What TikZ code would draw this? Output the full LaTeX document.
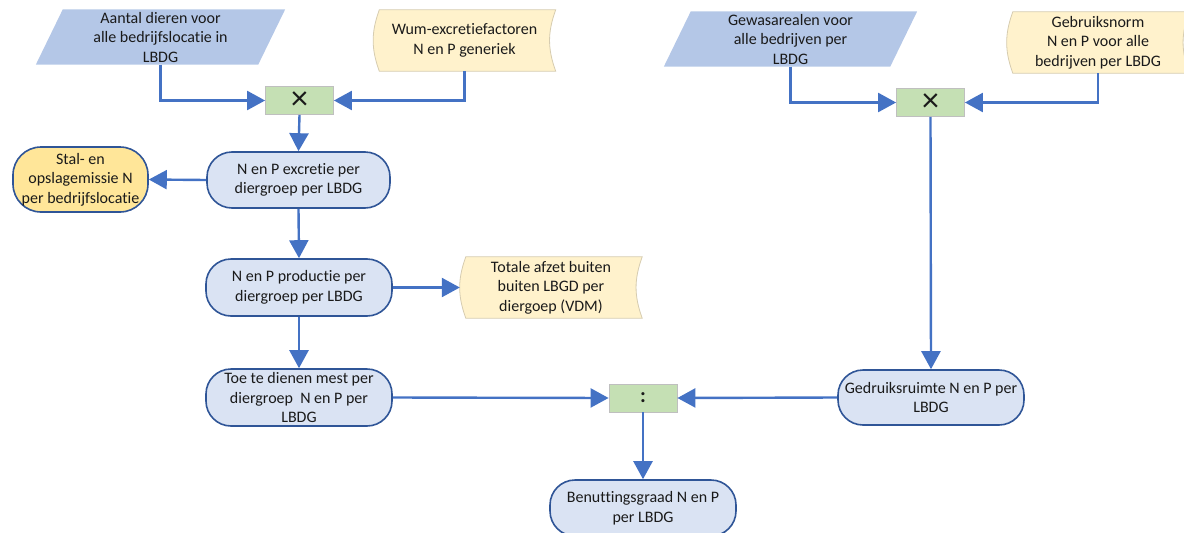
\documentclass[tikz,border=0pt]{standalone}
\usepackage{fontspec}
\setmainfont{Carlito}[Ligatures=NoCommon]
\usetikzlibrary{arrows.meta,backgrounds}
\definecolor{arrowblue}{HTML}{4472C4}
\definecolor{nodeblue}{HTML}{DAE3F3}
\definecolor{borderblue}{HTML}{2F5597}
\definecolor{parablue}{HTML}{B4C7E7}
\definecolor{docyellow}{HTML}{FFF2CC}
\definecolor{docborder}{HTML}{D6CCB0}
\definecolor{stalgold}{HTML}{FFE699}
\definecolor{opgreen}{HTML}{C5E0B4}
\definecolor{opborder}{HTML}{BFBFBF}
\definecolor{txt}{HTML}{1A1A1A}
\begin{document}
\begin{tikzpicture}[x=1pt,y=-1pt,
  every node/.style={font=\fontsize{16}{19.5}\selectfont, text=txt, align=center, inner sep=0pt},
  flow/.style={draw=borderblue, fill=nodeblue, line width=1.6pt, rounded corners=25pt, minimum width=186pt, minimum height=56pt},
  paratext/.style={minimum width=#1, minimum height=55pt},
  doctext/.style={minimum width=182pt, minimum height=61pt},
  opbox/.style={draw=opborder, fill=opgreen, line width=0.8pt, minimum width=68pt, minimum height=28pt},
  conn/.style={draw=arrowblue, line width=2.4pt, -{Triangle[length=18pt,width=19pt]}},
  parashape/.style={fill=parablue},
  docshape/.style={fill=docyellow, draw=docborder, line width=0.8pt},
]
\useasboundingbox (0,0) rectangle (1184,533);

% input shapes (text nodes)
\node[paratext=222pt] (pa) at (160.5,37) {Aantal dieren voor\\alle bedrijfslocatie in\\LBDG};
\node[doctext] (wum) at (464.5,40.5) {Wum-excretiefactoren\\N en P generiek};
\node[paratext=226pt] (pb) at (790.5,39) {Gewasarealen voor\\alle bedrijven per\\LBDG};
\node[doctext] (geb) at (1098,42.5) {Gebruiksnorm\\N en P voor alle\\bedrijven per LBDG};
\node[doctext] (tot) at (551,287.5) {Totale afzet buiten\\buiten LBGD per\\diergoep (VDM)};

\begin{scope}[on background layer]
  \path[parashape] ([xshift=-13.5pt]pa.south west) -- ([xshift=13.5pt]pa.north west)
     -- ([xshift=13.5pt]pa.north east) -- ([xshift=-13.5pt]pa.south east) -- cycle;
  \path[parashape] ([xshift=-13.5pt]pb.south west) -- ([xshift=13.5pt]pb.north west)
     -- ([xshift=13.5pt]pb.north east) -- ([xshift=-13.5pt]pb.south east) -- cycle;
  \foreach \n in {wum,geb,tot}{
    \path[docshape] ([xshift=6pt]\n.north west) to[bend right=20] ([xshift=6pt]\n.south west)
       -- (\n.south east) to[bend left=20] (\n.north east) -- cycle;
  }
\end{scope}

% operators
\node[opbox] (x1) at (299.5,100.5) {\fontsize{34}{34}\selectfont ×};
\node[opbox] (x2) at (930.5,102.5) {\fontsize{34}{34}\selectfont ×};
\node[opbox] (dv) at (643,398) {\fontsize{21}{21}\selectfont\textbf{:}};

% process nodes
\node[flow, minimum width=135pt, minimum height=65pt, fill=stalgold, rounded corners=28pt] (stal) at (80.5,179.5) {Stal- en\\opslagemissie N\\per bedrijfslocatie};
\node[flow, minimum width=183pt] (exc) at (298.5,180) {N en P excretie per\\diergroep per LBDG};
\node[flow, minimum height=57pt] (prod) at (299,287.5) {N en P productie per\\diergroep per LBDG};
\node[flow, minimum height=57pt] (toe) at (299,397.5) {Toe te dienen mest per\\diergroep \ N en P per\\LBDG};
\node[flow, minimum height=55pt] (ged) at (931,397.5) {Gedruiksruimte N en P per\\LBDG};
\node[flow] (ben) at (643,508) {Benuttingsgraad N en P\\per LBDG};

% connectors
\draw[conn] (pa.south) |- (x1.west);
\draw[conn] (wum.south) |- (x1.east);
\draw[conn] (x1.south) -- (exc.north);
\draw[conn] (exc.west) -- (stal.east);
\draw[conn] (exc.south) -- (prod.north);
\draw[conn] (prod.east) -- (tot.west);
\draw[conn] (prod.south) -- (toe.north);
\draw[conn] (toe.east) -- (dv.west);
\draw[conn] (pb.south) |- (x2.west);
\draw[conn] (geb.south) |- (x2.east);
\draw[conn] (x2.south) -- (ged.north);
\draw[conn] (ged.west) -- (dv.east);
\draw[conn] (dv.south) -- (ben.north);
\end{tikzpicture}
\end{document}
